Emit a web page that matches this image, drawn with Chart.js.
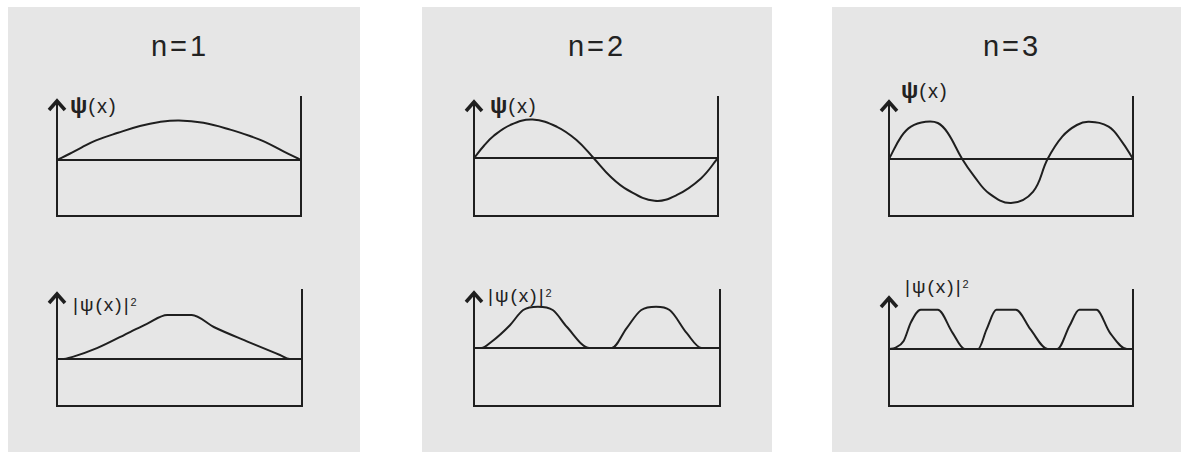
<!DOCTYPE html>
<html lang="en">
<head>
<meta charset="utf-8">
<title>Particle in a box: n = 1, 2, 3</title>
<script src="https://cdn.jsdelivr.net/npm/chart.js@4.4.1/dist/chart.umd.min.js"></script>
<style>
  html, body { margin: 0; padding: 0; background: #fff; }
  #stage {
    position: relative; width: 1181px; height: 452px; overflow: hidden;
    font-family: 'Liberation Sans', Arial, sans-serif; color: #222;
  }
  .panel { position: absolute; top: 7px; height: 445px; background: #e6e6e6; }
  .title {
    position: absolute; top: 31px; width: 120px; text-align: center;
    font-size: 29px; line-height: 30px; letter-spacing: 3px;
  }
  .label { position: absolute; font-size: 20px; line-height: 22px; white-space: nowrap; letter-spacing: 2px; }
  .label b { font-size: 23px; letter-spacing: 1px; }
  .label.small { font-size: 19px; letter-spacing: 2px; }
  .label sup { font-size: 11px; vertical-align: top; position: relative; top: -3px; }
  canvas { position: absolute; }
</style>
</head>
<body>
<div id="stage">
  <div class="panel" style="left:8px; width:352px;"></div>
  <div class="panel" style="left:422px; width:350px;"></div>
  <div class="panel" style="left:832px; width:349px;"></div>

  <div class="label" style="left:70px; top:94px;"><b>ψ</b>(x)</div>
  <div class="label" style="left:490px; top:94px;"><b>ψ</b>(x)</div>
  <div class="label" style="left:901px; top:79px;"><b>ψ</b>(x)</div>

  <div class="label small" style="left:73px; top:294px;">|ψ(x)|<sup>2</sup></div>
  <div class="label small" style="left:488px; top:285px;">|ψ(x)|<sup>2</sup></div>
  <div class="label small" style="left:905px; top:276px;">|ψ(x)|<sup>2</sup></div>
</div>

<script>
// Panel titles, one per quantum number
const panelTitles = ['n=1', 'n=2', 'n=3'];
const titleCenters = [180, 597, 1012];

// x is the position across the well in percent (0 = left wall, 100 = right wall)
// y is in arbitrary units, 1 unit = one grid amplitude

// n = 1
const psi1X = [0, 5, 10, 16, 25, 34, 42, 50, 60, 71, 80, 85, 93, 100];
const psi1Y = [0, 0.15, 0.31, 0.49, 0.68, 0.85, 0.95, 0.99, 0.93, 0.76, 0.58, 0.46, 0.21, 0];
const dens1X = [0, 2, 6.7, 16.3, 30, 36.7, 45, 50, 55, 64, 78, 91, 95, 100];
const dens1Y = [0, 0, 0.06, 0.27, 0.68, 0.88, 1.1, 1.1, 1.1, 0.8, 0.43, 0.1, 0, 0];

// n = 2
const psi2X = [0, 4, 8, 15, 24, 34, 42, 49, 56, 63, 74, 83, 93, 100];
const psi2Y = [0, 0.3, 0.55, 0.83, 0.96, 0.78, 0.45, 0, -0.47, -0.8, -1.07, -0.93, -0.51, 0];
const dens2X = [0, 3, 7, 14.6, 20, 26, 32, 37.7, 47, 56, 62, 68, 74, 79.5, 86.5, 92.5, 100];
const dens2Y = [0, 0, 0.15, 0.57, 0.95, 1.03, 0.95, 0.53, 0, 0, 0.49, 0.95, 1.03, 0.95, 0.37, 0, 0];

// n = 3
const psi3X = [0, 5, 9, 15, 20, 24, 30, 35, 41, 50, 59, 65, 71, 77, 82, 90, 95.5, 100];
const psi3Y = [0, 0.56, 0.81, 0.93, 0.9, 0.66, 0, -0.44, -0.86, -1.1, -0.82, 0, 0.56, 0.85, 0.93, 0.81, 0.43, 0];
const dens3X = [0, 2.5, 6, 9, 13, 20, 26, 31, 36.5, 40, 44, 52, 58, 65, 69, 74, 78, 85, 90.5, 97.5, 100];
const dens3Y = [0, 0.03, 0.2, 0.67, 0.98, 0.98, 0.41, 0, 0, 0.49, 0.98, 0.98, 0.49, 0, 0, 0.58, 0.98, 0.98, 0.41, 0, 0];

// Where each well sits on the page (walls and floor in px) and its value range.
// Wave functions get a plain spline, densities a monotone one so they stay on the zero line.
const plots = [
    { xs: psi1X,  ys: psi1Y,  mode: 'default',  left: 57,  right: 301,  top: 96,  bottom: 216, yMin: -1.4,   yMax: 1.6,   arrowGap: 5 },
    { xs: dens1X, ys: dens1Y, mode: 'monotone', left: 57,  right: 302,  top: 289, bottom: 406, yMin: -1.175, yMax: 1.75,  arrowGap: 5 },
    { xs: psi2X,  ys: psi2Y,  mode: 'default',  left: 474, right: 718,  top: 96,  bottom: 216, yMin: -1.45,  yMax: 1.55,  arrowGap: 6 },
    { xs: dens2X, ys: dens2Y, mode: 'monotone', left: 474, right: 720,  top: 289, bottom: 406, yMin: -1.45,  yMax: 1.475, arrowGap: 4 },
    { xs: psi3X,  ys: psi3Y,  mode: 'default',  left: 889, right: 1133, top: 96,  bottom: 216, yMin: -1.425, yMax: 1.575, arrowGap: 6 },
    { xs: dens3X, ys: dens3Y, mode: 'monotone', left: 889, right: 1133, top: 289, bottom: 406, yMin: -1.425, yMax: 1.5,   arrowGap: 9 }
];

const INK = '#1f1f1f';

// Draws the box: y axis with arrow, floor, right wall and the zero line
const wellFrame = {
    id: 'wellFrame',
    beforeDatasetsDraw(chart, args, opts) {
        const { ctx, chartArea: a, scales: { y } } = chart;
        const y0 = Math.round(y.getPixelForValue(0));
        const tip = a.top + opts.arrowGap;

        ctx.save();
        ctx.strokeStyle = INK;
        ctx.lineWidth = 2;
        ctx.beginPath();
        ctx.moveTo(a.left, tip);
        ctx.lineTo(a.left, a.bottom);
        ctx.lineTo(a.right, a.bottom);
        ctx.lineTo(a.right, a.top);
        ctx.moveTo(a.left, y0);
        ctx.lineTo(a.right, y0);
        ctx.stroke();

        // arrow head
        ctx.lineWidth = 3.5;
        ctx.lineJoin = 'miter';
        ctx.beginPath();
        ctx.moveTo(a.left - 8, tip + 9);
        ctx.lineTo(a.left, tip);
        ctx.lineTo(a.left + 8, tip + 9);
        ctx.stroke();
        ctx.restore();
    }
};

document.addEventListener('DOMContentLoaded', function() {
    setupTitles();
    setupCharts();
});

function setupTitles() {
    const stage = document.getElementById('stage');
    panelTitles.forEach((text, i) => {
        const el = document.createElement('div');
        el.className = 'title';
        el.style.left = (titleCenters[i] - 60) + 'px';
        el.textContent = text;
        stage.appendChild(el);
    });
}

function setupCharts() {
    const stage = document.getElementById('stage');
    const pad = { left: 12, right: 4, top: 4, bottom: 4 };

    plots.forEach(p => {
        const canvas = document.createElement('canvas');
        canvas.width = p.right - p.left + pad.left + pad.right;
        canvas.height = p.bottom - p.top + pad.top + pad.bottom;
        canvas.style.left = (p.left - pad.left) + 'px';
        canvas.style.top = (p.top - pad.top) + 'px';
        stage.appendChild(canvas);

        new Chart(canvas.getContext('2d'), {
            type: 'line',
            data: {
                datasets: [{
                    data: p.xs.map((x, i) => ({ x: x, y: p.ys[i] })),
                    borderColor: INK,
                    borderWidth: 2,
                    pointRadius: 0,
                    fill: false,
                    tension: 0.4,
                    cubicInterpolationMode: p.mode
                }]
            },
            options: {
                responsive: false,
                animation: false,
                layout: { padding: pad },
                plugins: {
                    legend: { display: false },
                    tooltip: { enabled: false },
                    wellFrame: { arrowGap: p.arrowGap }
                },
                scales: {
                    x: { type: 'linear', min: 0, max: 100, display: false },
                    y: { min: p.yMin, max: p.yMax, display: false }
                }
            },
            plugins: [wellFrame]
        });
    });
}
</script>
</body>
</html>
